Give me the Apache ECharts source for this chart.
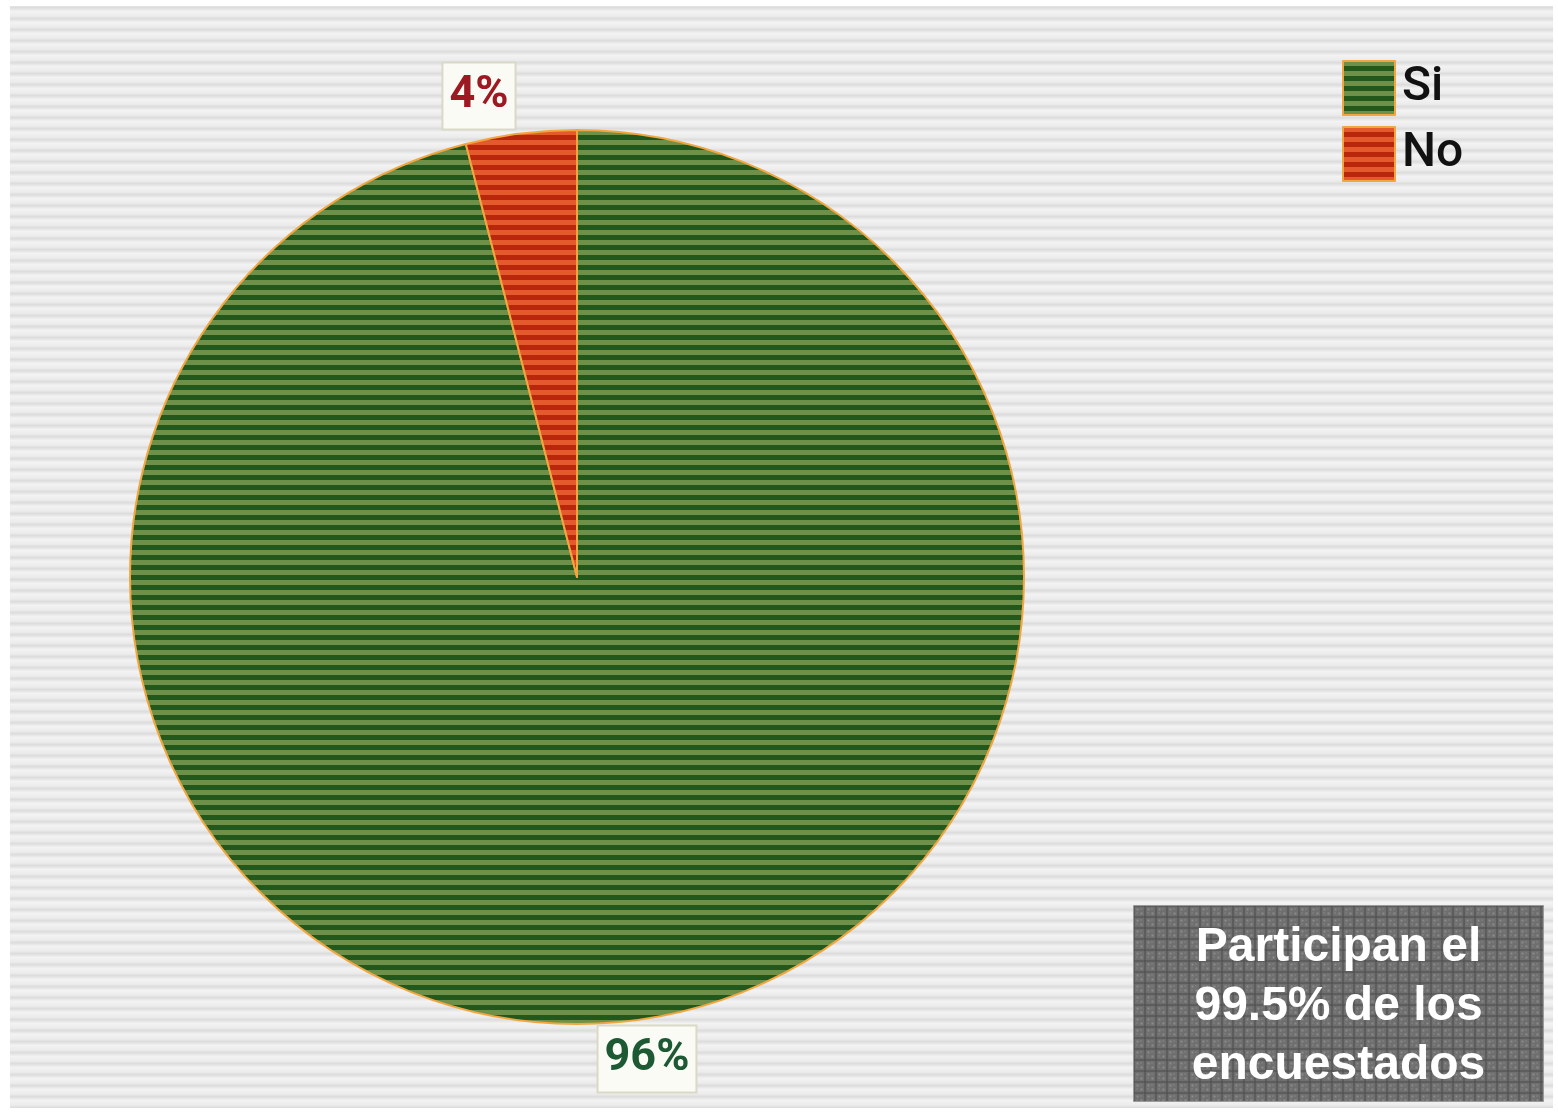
<!DOCTYPE html>
<html>
<head>
<meta charset="utf-8">
<script src="https://cdn.jsdelivr.net/npm/echarts@6/dist/echarts.min.js"></script>
<style>
  html, body { margin: 0; padding: 0; background: #ffffff; }
  #chart { width: 1558px; height: 1114px; }
</style>
</head>
<body>
<div id="chart"></div>
<script>
// Survey answers
const categories = ['Si', 'No'];
const values = [96, 4];
const noteText = 'Participan el\n99.5% de los\nencuestados';

const LABEL_FONT = 'Roboto, "Liberation Sans", sans-serif';

// Horizontal stripe tile
function stripes(period, split, dark, light) {
  const c = document.createElement('canvas');
  c.width = 8; c.height = period;
  const g = c.getContext('2d');
  g.fillStyle = light; g.fillRect(0, 0, 8, period);
  g.fillStyle = dark; g.fillRect(0, split, 8, period - split);
  return c;
}

// Soft striped backdrop tile
function softStripes() {
  const c = document.createElement('canvas');
  c.width = 8; c.height = 11;
  const g = c.getContext('2d');
  const grad = g.createLinearGradient(0, 0, 0, 11);
  grad.addColorStop(0, '#f3f3f3');
  grad.addColorStop(0.45, '#ececec');
  grad.addColorStop(0.7, '#dcdcdc');
  grad.addColorStop(1, '#f1f1f1');
  g.fillStyle = grad; g.fillRect(0, 0, 8, 11);
  return c;
}

// Grid texture for the note box
function gridTile() {
  const c = document.createElement('canvas');
  c.width = 11; c.height = 11;
  const g = c.getContext('2d');
  g.fillStyle = '#6f6f6f'; g.fillRect(0, 0, 11, 11);
  g.fillStyle = '#4b4b4b';
  g.fillRect(0, 0, 11, 1); g.fillRect(0, 0, 1, 11);
  g.fillStyle = '#8c8c8c';
  g.fillRect(3, 3, 2, 2); g.fillRect(7, 7, 2, 2);
  g.fillStyle = '#9a9a9a';
  g.fillRect(7, 3, 1, 1); g.fillRect(3, 7, 1, 1);
  return c;
}

const greenFill = { image: stripes(10, 5, '#22581c', '#6e9048'), repeat: 'repeat' };
const redFill = { image: stripes(10, 5, '#b8260c', '#e45a2c'), repeat: 'repeat' };

const chart = echarts.init(document.getElementById('chart'), null, { renderer: 'canvas' });

chart.setOption({
  animation: false,
  backgroundColor: '#ffffff',
  graphic: [
    {
      type: 'rect', z: -10, silent: true,
      shape: { x: 10, y: 6, width: 1543, height: 1102 },
      style: { fill: { image: softStripes(), repeat: 'repeat' } }
    },
    {
      type: 'group', left: 1133, top: 905, z: 10,
      children: [
        {
          type: 'rect',
          shape: { x: 0, y: 0, width: 410, height: 196 },
          style: { fill: { image: gridTile(), repeat: 'repeat' }, stroke: '#9a9a9a', lineWidth: 1 }
        },
        {
          type: 'text', x: 205, y: 101,
          style: {
            text: noteText, fill: '#ffffff',
            font: 'bold 48px "Liberation Sans", Arial, sans-serif',
            lineHeight: 59, align: 'center', verticalAlign: 'middle'
          }
        }
      ]
    }
  ],
  legend: {
    orient: 'vertical',
    left: 1337, top: 55,
    itemWidth: 52, itemHeight: 54, itemGap: 10,
    icon: 'rect',
    data: categories,
    textStyle: { fontSize: 48, fontWeight: 500, color: '#111111', fontFamily: LABEL_FONT, padding: [0, 0, 0, 2] }
  },
  series: [{
    type: 'pie',
    center: [577, 577],
    radius: 447,
    startAngle: 90,
    clockwise: true,
    percentPrecision: 0,
    avoidLabelOverlap: false,
    itemStyle: { borderColor: '#f2a640', borderWidth: 2 },
    label: {
      show: true, position: 'outside',
      formatter: '{d}%',
      fontSize: 45, fontWeight: 'bold', fontFamily: LABEL_FONT,
      backgroundColor: '#fbfbf6', borderColor: '#d9d9c6', borderWidth: 2,
      padding: [11, 6, 9, 6],
      align: 'center', verticalAlign: 'middle'
    },
    labelLine: { show: false },
    labelLayout: function (p) {
      return p.dataIndex === 1 ? { x: 479, y: 96, align: 'center', verticalAlign: 'middle' }
                               : { x: 647, y: 1059, align: 'center', verticalAlign: 'middle' };
    },
    emphasis: { disabled: true },
    data: categories.map(function (name, i) {
      return {
        name: name,
        value: values[i],
        itemStyle: { color: i === 0 ? greenFill : redFill },
        label: { color: i === 0 ? '#1d5a34' : '#9c1b22' }
      };
    })
  }]
});
</script>
</body>
</html>
